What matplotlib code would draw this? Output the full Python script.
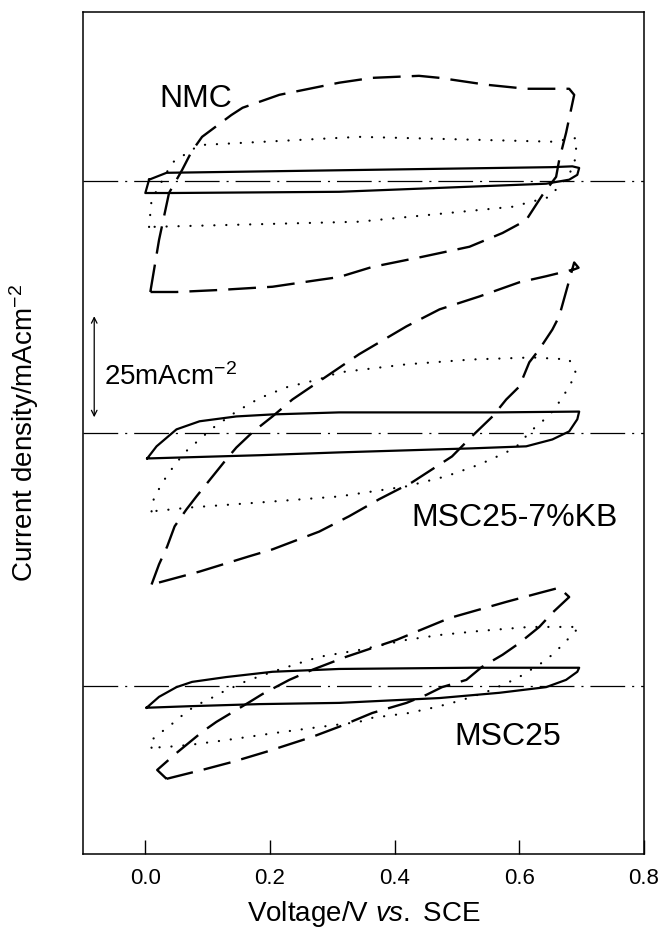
import matplotlib
matplotlib.use("Agg")
import matplotlib.pyplot as plt

plt.rcParams['font.family'] = ['Liberation Sans', 'DejaVu Sans']
plt.rcParams['mathtext.fontset'] = 'custom'
plt.rcParams['mathtext.rm'] = 'Liberation Sans'
plt.rcParams['mathtext.it'] = 'Liberation Sans:italic'
plt.rcParams['lines.scale_dashes'] = False

# CV loops, current in mA cm-2 relative to each sample's zero line
# NMC
nmc_slow_v = [0.006, 0.034, 0.343, 0.653, 0.685, 0.696, 0.693, 0.68, 0.643, 0.311, 0.043, 0.0, 0.006]
nmc_slow_i = [0.3, 2.0, 2.7, 3.4, 3.6, 3.2, 1.5, 0.3, -0.7, -2.7, -3.0, -3.0, 0.3]
nmc_mid_v = [0.006, 0.01, 0.043, 0.082, 0.091, 0.343, 0.653, 0.691, 0.691, 0.68, 0.648, 0.589,
             0.343, 0.006]
nmc_mid_i = [-11.4, -4.7, 4.5, 8.4, 8.9, 10.9, 9.7, 10.6, 5.9, 1.5, -4.0, -6.4, -10.1, -11.4]
nmc_fast_v = [0.008, 0.022, 0.038, 0.059, 0.074, 0.091, 0.138, 0.156, 0.215, 0.311, 0.364, 0.439,
              0.472, 0.547, 0.611, 0.68, 0.688, 0.675, 0.664, 0.659, 0.637, 0.611, 0.597, 0.573,
              0.52, 0.444, 0.364, 0.311, 0.279, 0.204, 0.119, 0.05, 0.008]
nmc_fast_i = [-27.5, -14.6, -3.0, 2.7, 7.2, 10.9, 16.3, 18.1, 21.3, 24.3, 25.5, 26.0,
              25.5, 23.8, 22.8, 22.8, 21.3, 11.9, 5.2, 1.0, -3.5, -9.7, -10.9, -12.9,
              -16.3, -18.8, -21.3, -23.8, -24.5, -26.2, -27.0, -27.5, -27.5]

# MSC25-7%KB
kb_slow_v = [0.003, 0.018, 0.05, 0.087, 0.146, 0.204, 0.311, 0.563, 0.696, 0.693, 0.68, 0.653,
             0.611, 0.524, 0.311, 0.183, 0.003]
kb_slow_i = [-6.2, -3.2, 1.0, 3.0, 4.2, 4.7, 5.2, 5.2, 5.4, 3.5, 0.5, -1.5,
             -3.2, -3.7, -4.7, -5.4, -6.2]
kb_mid_v = [0.01, 0.014, 0.034, 0.05, 0.067, 0.087, 0.107, 0.146, 0.183, 0.226, 0.279, 0.311,
            0.419, 0.524, 0.621, 0.68, 0.691, 0.68, 0.667, 0.653, 0.635, 0.616, 0.6, 0.579,
            0.536, 0.483, 0.419, 0.311, 0.183, 0.075, 0.01]
kb_mid_i = [-19.3, -15.8, -10.6, -7.2, -4.2, -1.5, 1.2, 5.4, 8.7, 11.4, 13.4, 15.1,
            17.1, 18.3, 18.8, 18.3, 14.9, 11.6, 8.4, 5.4, 2.7, 0.3, -2.7, -4.7,
            -7.7, -10.6, -13.1, -15.6, -17.1, -18.3, -19.3]
kb_fast_v = [0.01, 0.022, 0.035, 0.047, 0.066, 0.082, 0.13, 0.146, 0.172, 0.204, 0.236, 0.3,
             0.343, 0.419, 0.472, 0.536, 0.6, 0.643, 0.688, 0.695, 0.688, 0.664, 0.653, 0.632,
             0.616, 0.6, 0.579, 0.557, 0.524, 0.492, 0.46, 0.428, 0.375, 0.327, 0.279, 0.204,
             0.167, 0.087, 0.01]
kb_fast_i = [-37.4, -32.4, -28.0, -23.0, -18.8, -15.6, -6.4, -3.5, 0.3, 4.2, 8.4, 15.1,
             19.6, 26.5, 30.7, 33.9, 37.4, 38.9, 40.6, 41.0, 42.3, 29.0, 25.7, 20.8,
             17.6, 11.6, 8.4, 4.2, -0.7, -5.7, -8.9, -12.1, -16.3, -20.5, -24.3, -28.7,
             -30.4, -34.2, -37.4]

# MSC25
msc_slow_v = [0.002, 0.022, 0.05, 0.075, 0.13, 0.204, 0.311, 0.524, 0.696, 0.693, 0.675, 0.643,
              0.568, 0.472, 0.311, 0.183, 0.075, 0.002]
msc_slow_i = [-5.4, -2.7, -0.3, 1.0, 2.2, 3.5, 4.2, 4.5, 4.5, 3.5, 1.5, -0.3,
              -1.7, -3.0, -4.2, -4.5, -5.0, -5.4]
msc_mid_v = [0.01, 0.006, 0.026, 0.047, 0.066, 0.083, 0.106, 0.124, 0.162, 0.204, 0.242, 0.279,
             0.343, 0.419, 0.472, 0.536, 0.616, 0.696, 0.68, 0.661, 0.643, 0.603, 0.584, 0.547,
             0.504, 0.467, 0.423, 0.364, 0.343, 0.268, 0.21, 0.13, 0.071, 0.034, 0.01]
msc_mid_i = [-15.3, -13.9, -11.4, -8.9, -6.4, -4.7, -3.0, -1.5, 1.2, 3.5, 5.4, 7.2,
             8.9, 11.4, 12.6, 13.6, 14.6, 14.6, 11.9, 8.9, 6.4, 2.5, 1.0, -1.5,
             -3.7, -5.2, -6.7, -7.9, -8.9, -10.4, -11.6, -13.4, -14.6, -15.1, -15.3]
msc_fast_v = [0.034, 0.019, 0.05, 0.091, 0.114, 0.167, 0.188, 0.231, 0.268, 0.322, 0.403, 0.488,
              0.579, 0.632, 0.664, 0.68, 0.653, 0.632, 0.6, 0.573, 0.54, 0.515, 0.476, 0.451,
              0.419, 0.364, 0.311, 0.268, 0.194, 0.14, 0.091, 0.034]
msc_fast_i = [-23.0, -20.8, -16.6, -11.4, -8.9, -4.0, -2.0, 1.5, 4.0, 7.2, 11.4, 16.8,
              20.8, 23.0, 24.3, 22.0, 18.1, 14.6, 10.6, 7.7, 4.7, 1.5, -0.3, -2.2,
              -4.2, -6.7, -10.1, -12.6, -16.3, -18.8, -20.8, -23.0]

samples = ['MSC25', 'MSC25-7%KB', 'NMC']
offsets = [0.0, 62.5, 125.0]
curves = [
    [(msc_slow_v, msc_slow_i), (msc_mid_v, msc_mid_i), (msc_fast_v, msc_fast_i)],
    [(kb_slow_v, kb_slow_i), (kb_mid_v, kb_mid_i), (kb_fast_v, kb_fast_i)],
    [(nmc_slow_v, nmc_slow_i), (nmc_mid_v, nmc_mid_i), (nmc_fast_v, nmc_fast_i)],
]
xticks = [0.0, 0.2, 0.4, 0.6, 0.8]

styles = [
    dict(linestyle='-', lw=1.6),
    dict(linestyle=(0, (0.1, 8.5)), lw=1.6, dash_capstyle='round'),
    dict(linestyle=(0, (20, 8)), lw=1.7),
]

fig = plt.figure(figsize=(6.62, 9.30), dpi=100)
ax = fig.add_axes([83 / 662, 1 - 854 / 930, 561 / 662, 842 / 930])

for off, sample_curves in zip(offsets, curves):
    ax.axhline(off, color='black', lw=0.9, linestyle=(0, (25, 5, 1.5, 5)))
    for (v, i), st in zip(sample_curves, styles):
        ax.plot(v, [c + off for c in i], color='black', solid_joinstyle='round', **st)

# labels for each sample
ax.text(0.022, 143.3, 'NMC', fontsize=23)
ax.text(0.427, 39.5, 'MSC25-7%KB', fontsize=23)
ax.text(0.496, -14.6, 'MSC25', fontsize=23)

# scale bar
ax.annotate('', xy=(-0.082, 91.5), xytext=(-0.082, 66.5),
            arrowprops=dict(arrowstyle='<->', lw=0.9, color='black', shrinkA=0, shrinkB=0))
ax.text(-0.066, 74.6, r'25mAcm$^{-2}$', fontsize=20)

ax.set_xlim(-0.1, 0.8)
ax.set_ylim(-41.6, 166.8)
ax.set_xticks(xticks)
ax.set_xticklabels(['%.1f' % t for t in xticks])
ax.set_yticks([])
ax.tick_params(axis='x', direction='in', length=10, width=1, labelsize=16, pad=10)
for s in ax.spines.values():
    s.set_linewidth(1.1)

ax.set_xlabel(r'Voltage/V $\mathit{vs.}$ SCE', fontsize=20, labelpad=7)
ax.set_ylabel(r'Current density/mAcm$^{-2}$', fontsize=20, labelpad=30)

fig.savefig('out.png', dpi=100)
